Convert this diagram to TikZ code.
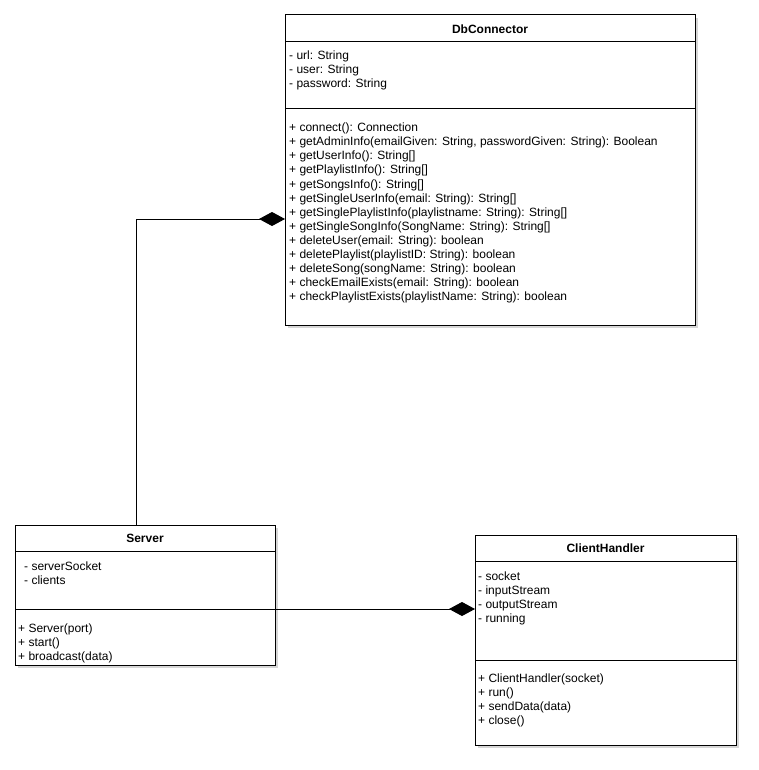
\documentclass[tikz,border=0pt]{standalone}
\usepackage{fontspec}
\setmainfont{Liberation Sans}
\usetikzlibrary{arrows.meta}
\begin{document}
\begin{tikzpicture}[x=1pt,y=-1pt,
  classbox/.style={draw=black, line width=1pt, fill=white, anchor=north west, inner sep=0pt, outer sep=0pt},
  shadowbox/.style={fill=black!16, draw=none, anchor=north west, inner sep=0pt, outer sep=0pt},
  title/.style={font=\fontsize{12}{14}\selectfont\bfseries, anchor=center, inner sep=0pt},
  member/.style={font=\fontsize{12}{14}\selectfont, anchor=base west, inner sep=0pt},
  sepline/.style={line width=1pt},
  comp/.style={line width=1pt, -{Diamond[length=26pt,width=14pt]}},
]
\useasboundingbox (0,0) rectangle (758,770);

% shadows
\node[shadowbox, minimum width=410pt, minimum height=310pt] (dbsh) at (288,18) {};
\node[shadowbox, minimum width=260pt, minimum height=140pt] (srvsh) at (18,528) {};
\node[shadowbox, minimum width=261pt, minimum height=210pt] (chsh) at (478,538) {};

% DbConnector
\node[classbox, minimum width=410pt, minimum height=310pt] (db) at (285,15) {};
\draw[sepline] (285,42) -- (695,42);
\draw[sepline] (285,109) -- (695,109);
\node[title] (dbtitle) at (490,29) {DbConnector};
\foreach \t [count=\i from 0] in {- url: String, - user: String, - password: String}
  \node[member] (dba\i) at (289,60+14*\i) {\t};
\foreach \t [count=\i from 0] in {
  + connect(): Connection,
  {+ getAdminInfo(emailGiven: String, passwordGiven: String): Boolean},
  + getUserInfo(): String[],
  + getPlaylistInfo(): String[],
  + getSongsInfo(): String[],
  + getSingleUserInfo(email: String): String[],
  + getSinglePlaylistInfo(playlistname: String): String[],
  + getSingleSongInfo(SongName: String): String[],
  + deleteUser(email: String): boolean,
  + deletePlaylist(playlistID: String): boolean,
  + deleteSong(songName: String): boolean,
  + checkEmailExists(email: String): boolean,
  + checkPlaylistExists(playlistName: String): boolean}
  \node[member] (dbm\i) at (289,132+14*\i) {\t};

% Server
\node[classbox, minimum width=260pt, minimum height=140pt] (srv) at (15,525) {};
\draw[sepline] (15,551) -- (275,551);
\draw[sepline] (15,609) -- (275,609);
\node[title] (srvtitle) at (145,538) {Server};
\foreach \t [count=\i from 0] in {- serverSocket, - clients}
  \node[member] (srva\i) at (24,570+14*\i) {\t};
\foreach \t [count=\i from 0] in {+ Server(port), + start(), + broadcast(data)}
  \node[member] (srvm\i) at (18,632+14*\i) {\t};

% ClientHandler
\node[classbox, minimum width=261pt, minimum height=210pt] (ch) at (475,535) {};
\draw[sepline] (475,561) -- (736,561);
\draw[sepline] (475,660) -- (736,660);
\node[title] (chtitle) at (605.5,548) {ClientHandler};
\foreach \t [count=\i from 0] in {- socket, - inputStream, - outputStream, - running}
  \node[member] (cha\i) at (478,580+14*\i) {\t};
\foreach \t [count=\i from 0] in {+ ClientHandler(socket), + run(), + sendData(data), + close()}
  \node[member] (chm\i) at (478,682+14*\i) {\t};

% connectors
\coordinate (srvtop) at (136,525);
\coordinate (dbleft) at (285,219);
\coordinate (srvright) at (275,609);
\coordinate (chleft) at (475,609);
\draw[comp] (srvtop) |- (dbleft);
\draw[comp] (srvright) -- (chleft);
\end{tikzpicture}
\end{document}
